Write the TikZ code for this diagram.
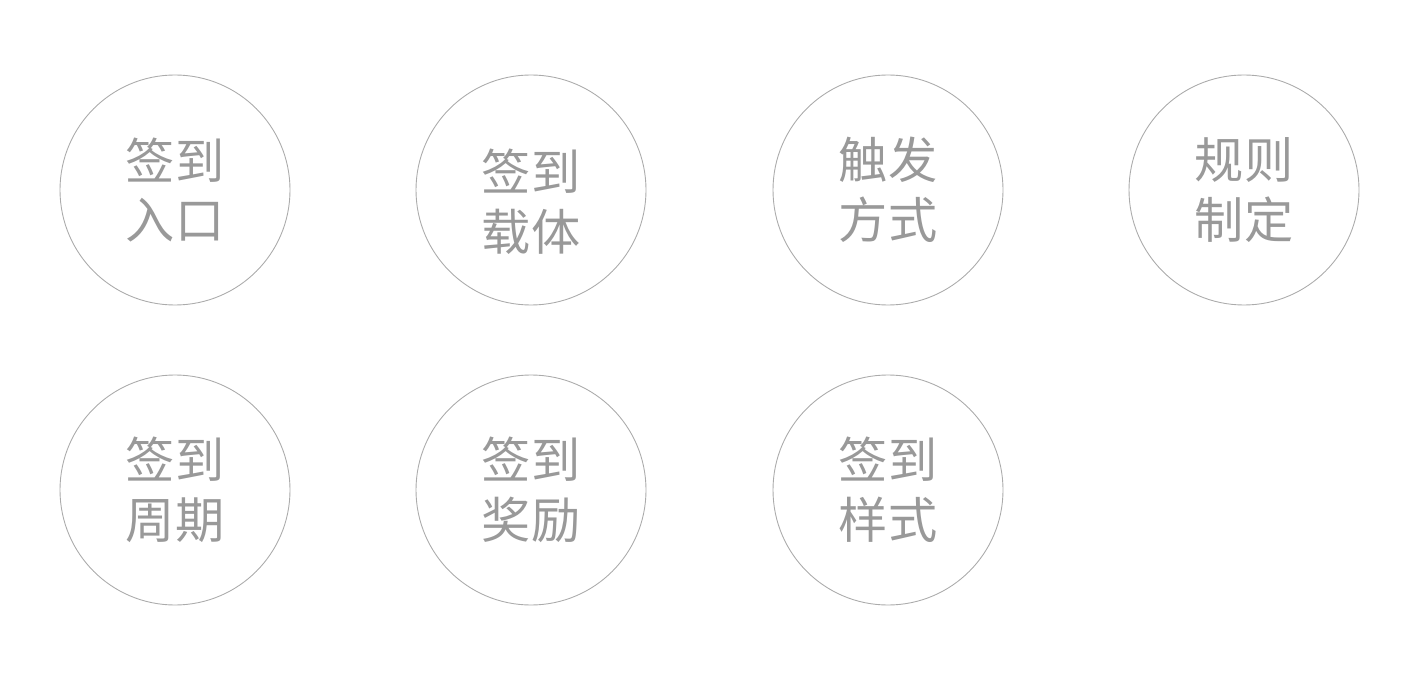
\documentclass[tikz,border=0pt]{standalone}
\usepackage{fontspec}
\usepackage{xcolor}
\usepackage{tikz}
\newfontfamily\cjk{Noto Sans CJK SC}
\definecolor{ringgray}{HTML}{ABABAB}
\definecolor{textgray}{HTML}{999999}

\begin{document}
\begin{tikzpicture}[mystate/.style={draw=ringgray,line width=0.5pt,circle,minimum size=4.6cm,inner sep=0pt},
    mytext/.style={align=center,text=textgray,font=\cjk\fontsize{28}{34}\selectfont}]
        
        %page
        \useasboundingbox (0,0) rectangle (28.44,13.56);
        
        %first row
        \node[mystate,mytext] (A) at (3.5,9.76) {签到\\入口};
        \node[mystate,label={[mytext,yshift=-0.24cm]center:{签到\\载体}}] (B) at (10.62,9.76) {};
        \node[mystate,mytext] (C) at (17.76,9.76) {触发\\方式};
        \node[mystate,mytext] (D) at (24.88,9.76) {规则\\制定};
        
        %second row
        \node[mystate,mytext] (A1) at (3.5,3.76) {签到\\周期};
        \node[mystate,mytext] (B1) at (10.62,3.76) {签到\\奖励};
        \node[mystate,mytext] (C1) at (17.76,3.76) {签到\\样式};
        \end{tikzpicture}
\end{document}
